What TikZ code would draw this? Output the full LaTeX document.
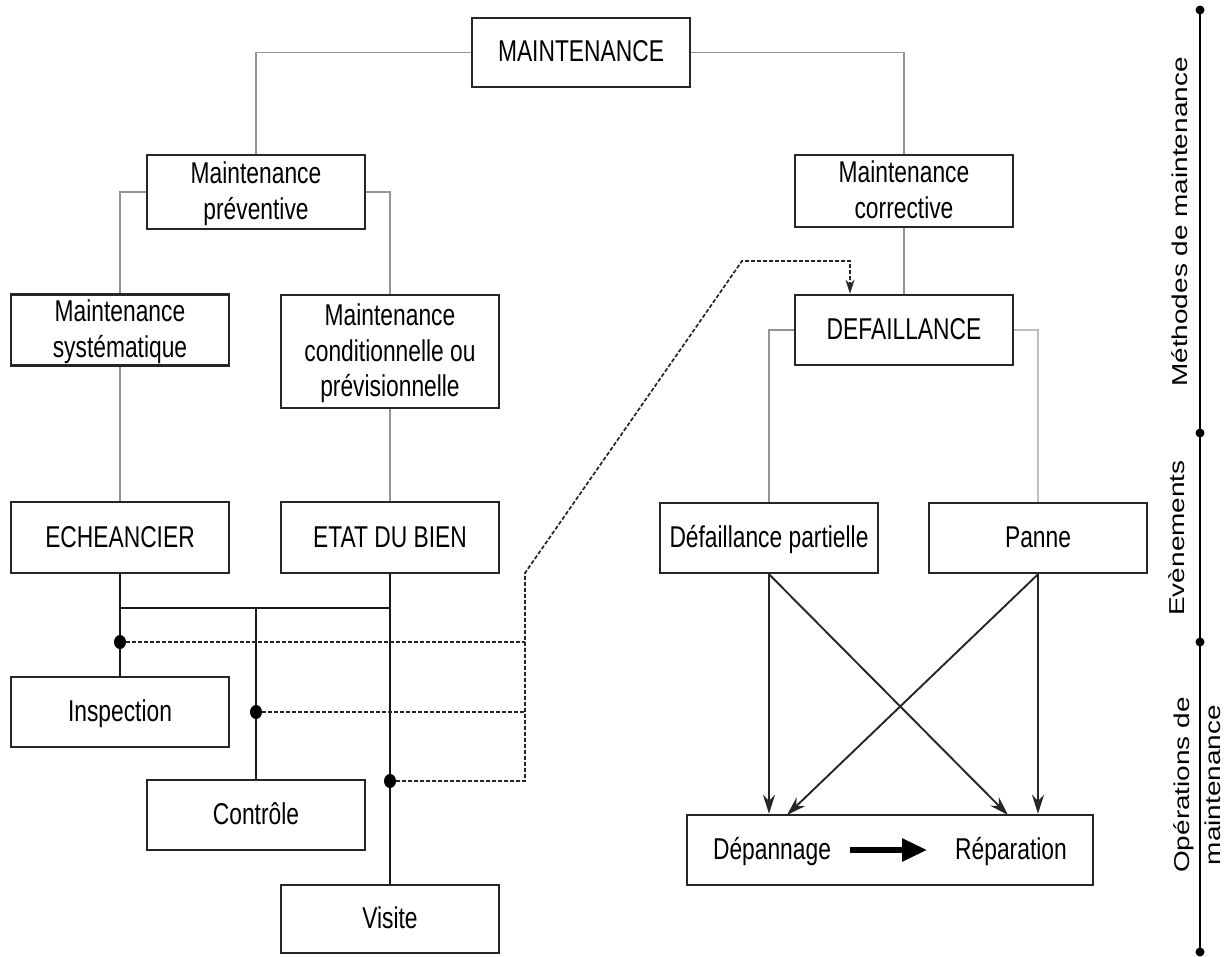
\documentclass[tikz,border=0pt]{standalone}
\usepackage{fontspec}
\setmainfont{Liberation Sans}
\usepackage{graphicx}
\usetikzlibrary{arrows.meta,shapes.geometric}

% box captions: tall, narrow lettering
\newcommand{\boxtext}[1]{\scalebox{1}[1.32]{\raisebox{-1.8pt}[\height][\depth]{\begin{tabular}{@{}c@{}}#1\end{tabular}}}}
% captions of the vertical scale on the right
\newcommand{\sidetext}[1]{{\fontsize{21.5}{31}\selectfont\scalebox{1.3}[1]{\begin{tabular}{@{}c@{}}#1\end{tabular}}}}

\begin{document}
\begin{tikzpicture}[x=1pt,y=-1pt,
  font=\fontsize{22.8}{27}\selectfont,
  box/.style={draw=black!85,line width=2.5pt,fill=white,inner sep=0pt,minimum width=218pt,minimum height=70pt},
  tree/.style={draw=black!42,line width=1.6pt},
  treelight/.style={draw=black!25,line width=1.6pt},
  link/.style={draw=black!90,line width=2pt},
  trace/.style={draw=black!85,line width=1.7pt,dash pattern=on 4pt off 2pt},
  flow/.style={draw=black!85,line width=1.9pt,-{Stealth[length=19pt,width=12pt]}},
  dot/.style={ellipse,fill=black,inner sep=0pt,minimum width=12pt,minimum height=14pt},
  tick/.style={circle,fill=black,inner sep=0pt,minimum size=9pt},
  sidecap/.style={rotate=90,inner sep=0pt},
  plain/.style={inner sep=0pt}
]
\fill[white] (0,0) rectangle (1231,957);
\useasboundingbox (0,0) rectangle (1231,957);

% ---- boxes ----
\node[box,minimum height=69pt] (maint) at (581,52.5) {\boxtext{MAINTENANCE}};
\node[box,minimum height=74pt] (prev) at (256,192) {\boxtext{Maintenance\\préventive}};
\node[box,minimum height=72pt] (corr) at (904,191) {\boxtext{Maintenance\\corrective}};
\node[box] (syst) at (120,330) {\boxtext{Maintenance\\systématique}};
\node[box,minimum height=113pt] (cond) at (390,351.5) {\boxtext{Maintenance\\conditionnelle ou\\prévisionnelle}};
\node[box,minimum height=71pt] (ech) at (120,537.5) {\boxtext{ECHEANCIER}};
\node[box,minimum height=71pt] (etat) at (390,537.5) {\boxtext{ETAT DU BIEN}};
\node[box] (insp) at (120,712) {\boxtext{Inspection}};
\node[box] (ctrl) at (256,815) {\boxtext{Contrôle}};
\node[box,minimum height=68pt] (visite) at (390,919) {\boxtext{Visite}};
\node[box] (def) at (904,330) {\boxtext{DEFAILLANCE}};
\node[box] (dp) at (769,538) {\boxtext{Défaillance partielle}};
\node[box] (panne) at (1038,538) {\boxtext{Panne}};
\node[box,minimum width=406pt] (ops) at (890,850) {};
\node[plain] (dep) at (772,850) {\boxtext{Dépannage}};
\node[plain] (repa) at (1011,850) {\boxtext{Réparation}};

% ---- hierarchy of methods ----
\draw[tree] (maint.west) -| (prev.north);
\draw[tree] (maint.east) -| (corr.north);
\draw[tree] (prev.west) -| (syst.north);
\draw[tree] (prev.east) -| (cond.north);
\draw[tree] (syst.south) -- (ech.north);
\draw[tree] (cond.south) -- (etat.north);
\draw[tree] (corr.south) -- (def.north);
\draw[tree] (def.west) -| (dp.north);
\draw[treelight] (def.east) -| (panne.north);

% ---- preventive operations ----
\coordinate (jl) at (120,608);
\coordinate (jm) at (256,608);
\coordinate (jr) at (390,608);
\draw[link] (ech.south) -- (insp.north);
\draw[link] (etat.south) -- (visite.north);
\draw[link] (jl) -- (jr);
\draw[link] (jm) -- (ctrl.north);
\node[dot] (d1) at (120,642) {};
\node[dot] (d2) at (256,712) {};
\node[dot] (d3) at (390,781) {};

% ---- feedback towards the failure ----
\coordinate (k1) at (525,642);
\coordinate (k2) at (525,712);
\coordinate (k3) at (525,781);
\coordinate (k4) at (525,573);
\coordinate (k5) at (742,261);
\coordinate (k6) at (850,261);
\draw[trace] (d1) -- (k1);
\draw[trace] (d2) -- (k2);
\draw[trace,-{Stealth[length=14pt,width=9pt]}] (d3) -- (k3) -- (k4) -- (k5) -- (k6) -- (k6 |- def.north);

% ---- corrective operations ----
\coordinate (r1) at (787,815);
\coordinate (r2) at (1008,815);
\draw[flow] (dp.south) -- (dp.south |- ops.north);
\draw[flow] (dp.south) -- (r2);
\draw[flow] (panne.south) -- (r1);
\draw[flow] (panne.south) -- (panne.south |- ops.north);
\draw[draw=black,line width=5.5pt,-{Triangle[length=25pt,width=22pt]}] ([xshift=19pt]dep.east) -- ([xshift=-28pt]repa.west);

% ---- scale of levels ----
\node[tick] (t0) at (1200,10) {};
\node[tick] (t1) at (1200,433) {};
\node[tick] (t2) at (1200,642) {};
\node[tick] (t3) at (1200,952) {};
\draw[line width=2pt] (t0.center) -- (t3.center);
\node[sidecap] (lm) at (1181,222) {\sidetext{Méthodes de maintenance}};
\node[sidecap] (le) at (1178,538) {\sidetext{Evènements}};
\node[sidecap] (lo) at (1199,785) {\sidetext{Opérations de\\maintenance}};
\end{tikzpicture}
\end{document}
